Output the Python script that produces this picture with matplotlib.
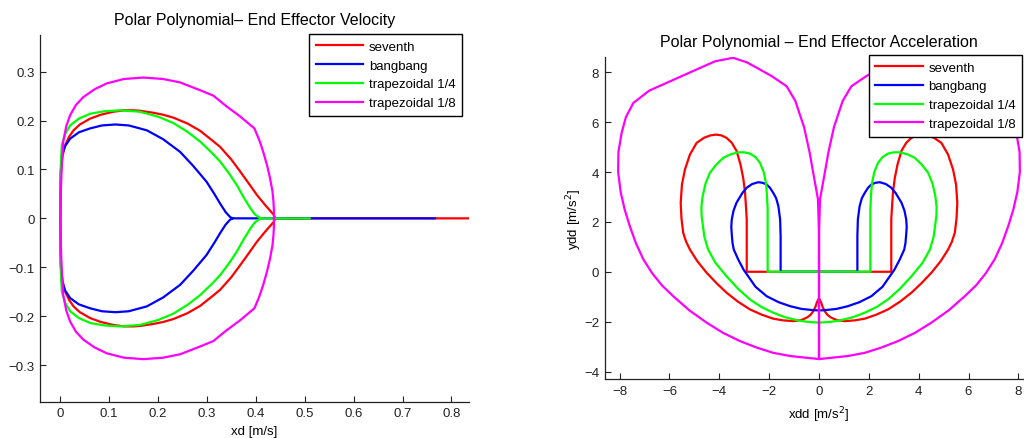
import numpy as np
import matplotlib
matplotlib.use("Agg")
import matplotlib.pyplot as plt

plt.rcParams['font.family'] = ['Liberation Sans', 'DejaVu Sans']
plt.rcParams['font.size'] = 9.5

labels = ['seventh', 'bangbang', 'trapezoidal 1/4', 'trapezoidal 1/8']
colors = ['#ff0000', '#0000ff', '#00ff00', '#ff00ff']

# ---- velocity, upper half of each loop (lower half is its mirror in y) ----
vel_red_x = [0, 0.001, 0.005, 0.010, 0.018, 0.027, 0.040, 0.061, 0.083, 0.108, 0.130, 0.149, 0.163, 0.190,
             0.210, 0.231, 0.260, 0.286, 0.310, 0.327, 0.350, 0.367, 0.385, 0.402, 0.420, 0.436, 0.440]
vel_red_y = [0, 0.100, 0.130, 0.150, 0.167, 0.180, 0.192, 0.204, 0.212, 0.218, 0.221, 0.221, 0.220, 0.216,
             0.212, 0.206, 0.194, 0.179, 0.160, 0.146, 0.120, 0.097, 0.072, 0.048, 0.026, 0.008, 0.0]
vel_blue_x = [0, 0.001, 0.003, 0.010, 0.020, 0.038, 0.061, 0.085, 0.113, 0.140, 0.177, 0.210, 0.245, 0.272,
              0.299, 0.315, 0.327, 0.338, 0.347, 0.352]
vel_blue_y = [0, 0.090, 0.129, 0.148, 0.163, 0.176, 0.184, 0.190, 0.192, 0.190, 0.180, 0.162, 0.136, 0.107,
              0.075, 0.050, 0.030, 0.013, 0.003, 0.0]
vel_green_x = [0, 0.001, 0.003, 0.010, 0.020, 0.038, 0.061, 0.090, 0.122, 0.163, 0.200, 0.231, 0.260, 0.286,
               0.310, 0.327, 0.345, 0.361, 0.375, 0.388, 0.398, 0.410]
vel_green_y = [0, 0.110, 0.150, 0.173, 0.190, 0.204, 0.214, 0.219, 0.221, 0.218, 0.208, 0.195, 0.177, 0.157,
               0.134, 0.116, 0.092, 0.068, 0.043, 0.022, 0.008, 0.0]
vel_mag_x = [0, 0.001, 0.003, 0.006, 0.012, 0.020, 0.032, 0.047, 0.070, 0.095, 0.130, 0.170, 0.210, 0.245,
             0.286, 0.313, 0.340, 0.367, 0.397, 0.407, 0.415, 0.423, 0.429, 0.434, 0.436, 0.437, 0.437]
vel_mag_y = [0, 0.054, 0.110, 0.157, 0.188, 0.211, 0.232, 0.248, 0.264, 0.276, 0.285, 0.288, 0.285, 0.278,
             0.262, 0.251, 0.229, 0.209, 0.184, 0.160, 0.136, 0.108, 0.082, 0.055, 0.034, 0.015, 0.0]
# end of the flat y=0 tail of each curve
vel_tail = [0.835, 0.766, 0.510, 0.437]

# ---- acceleration, left half of each curve (right half is its mirror in x) ----
acc_red_x = [0, -2.90, -2.90, -2.90, -2.93, -2.97, -3.04, -3.15, -3.31, -3.50, -3.71, -3.92, -4.12, -4.35,
             -4.60, -4.91, -5.18, -5.38, -5.50, -5.55, -5.52, -5.45, -5.33, -5.18, -4.88, -4.51, -4.12,
             -3.71, -3.25, -2.77, -2.30, -1.84, -1.43, -1.03, -0.72, -0.49, -0.34, -0.23, -0.14, -0.09,
             -0.03, 0]
acc_red_y = [0, 0, 1.00, 2.10, 2.60, 3.20, 3.75, 4.30, 4.85, 5.17, 5.37, 5.47, 5.50, 5.47,
             5.38, 5.17, 4.70, 4.10, 3.50, 2.77, 2.15, 1.56, 1.20, 0.89, 0.42, -0.04, -0.45,
             -0.84, -1.20, -1.51, -1.72, -1.88, -1.95, -1.98, -1.94, -1.84, -1.73, -1.58, -1.40, -1.24,
             -1.11, -1.08]
acc_blue_x = [0, -1.54, -1.54, -1.54, -1.56, -1.63, -1.72, -1.84, -1.97, -2.10, -2.27, -2.44, -2.68, -2.90,
              -3.08, -3.31, -3.43, -3.50, -3.52, -3.50, -3.47, -3.42, -3.24, -3.03, -2.55, -2.10, -1.62,
              -1.16, -0.70, -0.23, 0]
acc_blue_y = [0, 0, 0.80, 1.43, 2.10, 2.63, 2.95, 3.17, 3.37, 3.50, 3.57, 3.59, 3.52, 3.37,
              3.15, 2.77, 2.45, 2.10, 1.80, 1.50, 1.15, 0.89, 0.49, 0.09, -0.60, -0.98, -1.22,
              -1.38, -1.49, -1.54, -1.55]
acc_green_x = [0, -2.06, -2.06, -2.06, -2.09, -2.13, -2.22, -2.37, -2.55, -2.77, -3.00, -3.24, -3.55, -3.84,
               -4.12, -4.38, -4.55, -4.67, -4.72, -4.71, -4.60, -4.45, -4.15, -3.71, -3.25, -2.77, -2.30,
               -1.84, -1.37, -0.90, -0.45, 0]
acc_green_y = [0, 0, 1.30, 2.50, 3.10, 3.57, 4.00, 4.37, 4.60, 4.74, 4.79, 4.79, 4.71, 4.57,
               4.30, 3.97, 3.55, 3.03, 2.60, 2.23, 1.40, 0.89, 0.35, -0.18, -0.68, -1.11, -1.42,
               -1.64, -1.82, -1.94, -2.01, -2.04]
acc_mag_x = [0, 0, -0.49, -1.15, -1.84, -2.50, -3.17, -3.85, -4.51, -5.20, -5.85, -6.30, -6.70, -7.05,
             -7.35, -7.60, -7.80, -7.96, -8.06, -8.05, -7.92, -7.75, -7.45, -6.82, -5.50, -4.17, -3.45, -2.90,
             -2.37, -1.89, -1.30, -0.95, -0.60, -0.38, -0.22, -0.04, 0, 0]
acc_mag_y = [0, -3.50, -3.45, -3.38, -3.25, -3.04, -2.78, -2.45, -2.04, -1.55, -0.98, -0.55, -0.05, 0.50,
             1.15, 1.85, 2.50, 3.20, 4.00, 4.80, 5.57, 6.20, 6.77, 7.26, 7.85, 8.44, 8.58, 8.40,
             8.11, 7.84, 7.44, 6.85, 5.80, 4.80, 3.90, 2.90, 1.50, 0.0]

vel = [(vel_red_x, vel_red_y), (vel_blue_x, vel_blue_y), (vel_green_x, vel_green_y), (vel_mag_x, vel_mag_y)]
acc = [(acc_red_x, acc_red_y), (acc_blue_x, acc_blue_y), (acc_green_x, acc_green_y), (acc_mag_x, acc_mag_y)]

fig = plt.figure(figsize=(10.24, 4.39), dpi=100)
ax1 = fig.add_axes([40.3 / 1024, 1 - 402.7 / 439, (469 - 40.3) / 1024, (402.7 - 36) / 439])
ax2 = fig.add_axes([604.7 / 1024, 1 - 380 / 439, (1033.3 - 604.7) / 1024, (380 - 58.3) / 439])

for i in range(4):
    x = np.array(vel[i][0])
    y = np.array(vel[i][1])
    px = np.concatenate([[vel_tail[i]], x[::-1], x])
    py = np.concatenate([[0], y[::-1], -y])
    ax1.plot(px, py, color=colors[i], lw=1.6, label=labels[i])

for i in range(4):
    x = np.array(acc[i][0])
    y = np.array(acc[i][1])
    px = np.concatenate([x, -x[::-1]])
    py = np.concatenate([y, y[::-1]])
    ax2.plot(px, py, color=colors[i], lw=1.6, label=labels[i])

ax1.set_xlim(-0.041, 0.836)
ax1.set_ylim(-0.375, 0.375)
ax1.set_xticks(np.arange(0, 0.81, 0.1))
ax1.set_xticklabels(['0', '0.1', '0.2', '0.3', '0.4', '0.5', '0.6', '0.7', '0.8'])
ax1.set_yticks([-0.3, -0.2, -0.1, 0, 0.1, 0.2, 0.3])
ax1.set_yticklabels(['\u22120.3', '\u22120.2', '\u22120.1', '0', '0.1', '0.2', '0.3'])
ax1.set_xlabel('xd [m/s]', labelpad=4)
ax1.set_title('Polar Polynomial\u2013 End Effector Velocity', fontsize=11.5, pad=8)

ax2.set_xlim(-8.6, 8.6)
ax2.set_ylim(-4.3, 8.6)
ax2.set_xticks(np.arange(-8, 9, 2))
ax2.set_yticks(np.arange(-4, 9, 2))
ax2.set_xlabel('xdd [m/s$^2$]', labelpad=5.5)
ax2.set_ylabel('ydd [m/s$^2$]', labelpad=0)
ax2.set_title('Polar Polynomial \u2013 End Effector Acceleration', fontsize=11.5, pad=8)

for ax in (ax1, ax2):
    ax.spines['top'].set_visible(False)
    ax.spines['right'].set_visible(False)
    for s in ('left', 'bottom'):
        ax.spines[s].set_color('#222222')
        ax.spines[s].set_linewidth(0.9)
    ax.tick_params(direction='in', length=4, width=0.8, pad=4, colors='#222222', labelcolor='#222222')

leg_kw = dict(loc='upper left', borderaxespad=0, fancybox=False, framealpha=1, edgecolor='black',
              handlelength=3.6, handletextpad=0.45, labelspacing=0.5, borderpad=0.5, fontsize=9.5)
l1 = ax1.legend(bbox_to_anchor=(309 / 1024, 1 - 35 / 439), bbox_transform=fig.transFigure, **leg_kw)
l2 = ax2.legend(bbox_to_anchor=(868.5 / 1024, 1 - 55.7 / 439), bbox_transform=fig.transFigure, **leg_kw)
for l in (l1, l2):
    l.get_frame().set_linewidth(1.0)

fig.savefig('out.png', dpi=100)
